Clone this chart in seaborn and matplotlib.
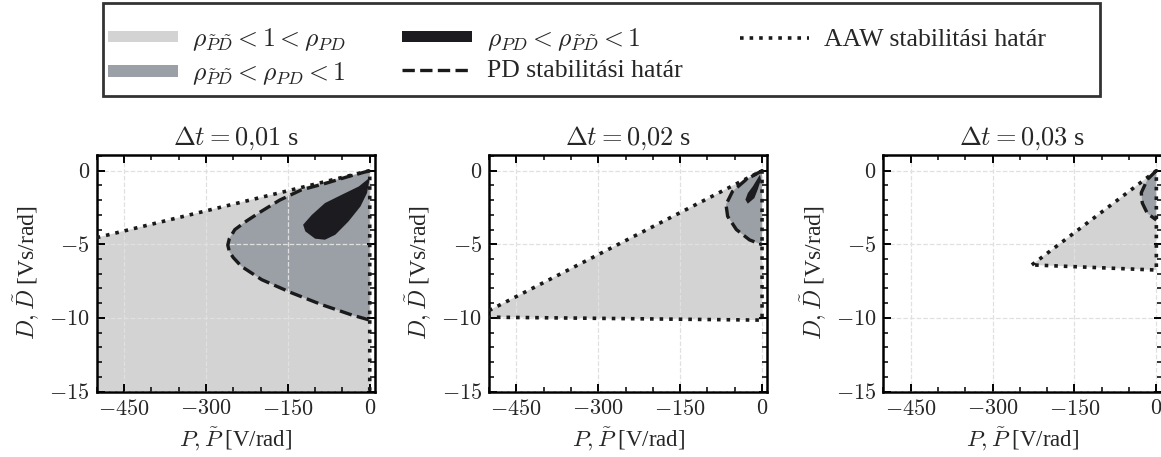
import matplotlib
matplotlib.use('Agg')
import matplotlib.pyplot as plt
from matplotlib.lines import Line2D
from matplotlib.patches import Patch, Rectangle
from matplotlib.ticker import MultipleLocator, FuncFormatter
import seaborn as sns

# time steps of the three panels
dt_labels = ['0{,}01', '0{,}02', '0{,}03']

# AAW stability boundary (dotted) -- P [V/rad], D [Vs/rad]
aaw1_P = [-500, 0, 0]
aaw1_D = [-4.55, 0, -15]
aaw2_P = [-500, 0, 0, -500]
aaw2_D = [-9.5, 0, -10.15, -9.95]
aaw3_P = [-228, 0, 0, -228]
aaw3_D = [-6.4, 0, -6.75, -6.4]

# extra corner of the AAW-stable region lying on the axis edge
aaw1_corner_P = [-500]
aaw1_corner_D = [-15]

# PD stability boundary (dashed)
pd1_P = [0, -35, -80, -125, -165, -198, -225, -247, -257, -260, -257, -250, -235, -198, -143, -88, -33, 0]
pd1_D = [0, -0.35, -0.85, -1.3, -2.0, -2.75, -3.4, -4.0, -4.6, -5.05, -5.5, -5.9, -6.5, -7.4, -8.3, -9.1, -9.8, -10.15]
pd2_P = [0, -29, -54, -66, -63, -47, -23, 0]
pd2_D = [0, -0.6, -1.4, -2.3, -3.1, -4.0, -4.7, -5.03]
pd3_P = [0, -16.5, -27.6, -25.7, -16.5, 0]
pd3_D = [0, -0.6, -1.5, -2.2, -2.9, -3.35]

# region rho_PD < rho_PtDt < 1 (dark)
dark1_P = [-1, -20, -51, -82, -106, -122, -118, -100, -82, -63, -39, -17, -5, -1]
dark1_D = [-0.5, -1.07, -1.63, -2.2, -3.0, -3.67, -4.12, -4.62, -4.69, -4.35, -3.45, -2.43, -1.52, -0.73]
dark2_P = [-3.8, -17, -26, -30.5, -26, -14, -8, -2]
dark2_D = [-0.27, -1.07, -1.52, -1.97, -2.24, -1.86, -1.29, -0.61]

panels = [
    (aaw1_P, aaw1_D, aaw1_corner_P, aaw1_corner_D, pd1_P, pd1_D, dark1_P, dark1_D),
    (aaw2_P, aaw2_D, [], [], pd2_P, pd2_D, dark2_P, dark2_D),
    (aaw3_P, aaw3_D, [], [], pd3_P, pd3_D, [], []),
]

c_light = '#d3d3d3'
c_mid = '#9aa0a6'
c_dark = '#1c1c20'

sns.set_theme(style='ticks')
plt.rcParams['font.family'] = ['Liberation Serif', 'DejaVu Serif']
plt.rcParams['mathtext.fontset'] = 'cm'
plt.rcParams['axes.edgecolor'] = 'black'
plt.rcParams['axes.linewidth'] = 1.8

# tick labels typeset as math (Computer Modern)
math_fmt = FuncFormatter(lambda v, pos: '$%g$' % v)

W, H = 1161, 457
fig = plt.figure(figsize=(W / 100, H / 100), dpi=100)
lefts = [96.7, 489, 883.3]
for i, (aP, aD, cP, cD, pP, pD, dP, dD) in enumerate(panels):
    ax = fig.add_axes([lefts[i] / W, (H - 391.5) / H, 278.5 / W, 237 / H])
    ax.fill(aP + cP, aD + cD, color=c_light, lw=0, zorder=1)
    ax.fill(pP, pD, color=c_mid, lw=0, zorder=1.2)
    if dP:
        ax.fill(dP, dD, color=c_dark, lw=0, zorder=1.4)
    sns.lineplot(x=pP, y=pD, sort=False, estimator=None, ax=ax, color='#1a1a1a',
                 linestyle='--', lw=2.4, zorder=4)
    sns.lineplot(x=aP, y=aD, sort=False, estimator=None, ax=ax, color='#1a1a1a',
                 linestyle=':', lw=2.6, zorder=5)
    ax.set_xlim(-500, 10)
    ax.set_ylim(-15, 1.1)
    ax.xaxis.set_major_locator(MultipleLocator(150))
    ax.xaxis.set_minor_locator(MultipleLocator(50))
    ax.yaxis.set_major_locator(MultipleLocator(5))
    ax.yaxis.set_minor_locator(MultipleLocator(1))
    ax.xaxis.set_major_formatter(math_fmt)
    ax.yaxis.set_major_formatter(math_fmt)
    ax.set_axisbelow(False)
    ax.grid(True, which='major', ls='--', color='#e0e0e0', lw=0.9, zorder=2.5)
    ax.tick_params(which='both', direction='in', top=True, right=True, color='black',
                   labelsize=16)
    ax.tick_params(axis='x', pad=6)
    ax.tick_params(axis='y', pad=5)
    ax.tick_params(which='major', length=6, width=1.4)
    ax.tick_params(which='minor', length=3.5, width=1.1)
    ax.set_title(r'$\Delta t = ' + dt_labels[i] + r'$ s', fontsize=19, pad=7)
    ax.set_xlabel(r'$P, \tilde{P}$ [V/rad]', fontsize=16.5, labelpad=4)
    ax.set_ylabel(r'$D, \tilde{D}$ [Vs/rad]', fontsize=17, labelpad=5)

handles = [
    Patch(color=c_light, lw=0),
    Patch(color=c_mid, lw=0),
    Patch(color=c_dark, lw=0),
    Line2D([], [], color='#1a1a1a', lw=2.4, ls='--'),
    Line2D([], [], color='#1a1a1a', lw=2.6, ls=':'),
]
labels = [
    r'$\rho_{\tilde{P}\tilde{D}} < 1 < \rho_{PD}$',
    r'$\rho_{\tilde{P}\tilde{D}} < \rho_{PD} < 1$',
    r'$\rho_{PD} < \rho_{\tilde{P}\tilde{D}} < 1$',
    'PD stabilitási határ',
    'AAW stabilitási határ',
]
leg = fig.legend(handles, labels, loc='center', bbox_to_anchor=(577 / W, 1 - 56.5 / H),
                 ncol=3, fontsize=18.5, frameon=False, handlelength=2.72, handleheight=0.32,
                 handletextpad=0.58, columnspacing=2.2, labelspacing=0.3, borderpad=0,
                 borderaxespad=0)
# legend box
fig.patches.append(Rectangle((103 / W, 1 - 96 / H), 997 / W, 93 / H, transform=fig.transFigure,
                             fill=False, edgecolor='#333333', lw=2, zorder=10))

fig.savefig('out.png', dpi=100)
